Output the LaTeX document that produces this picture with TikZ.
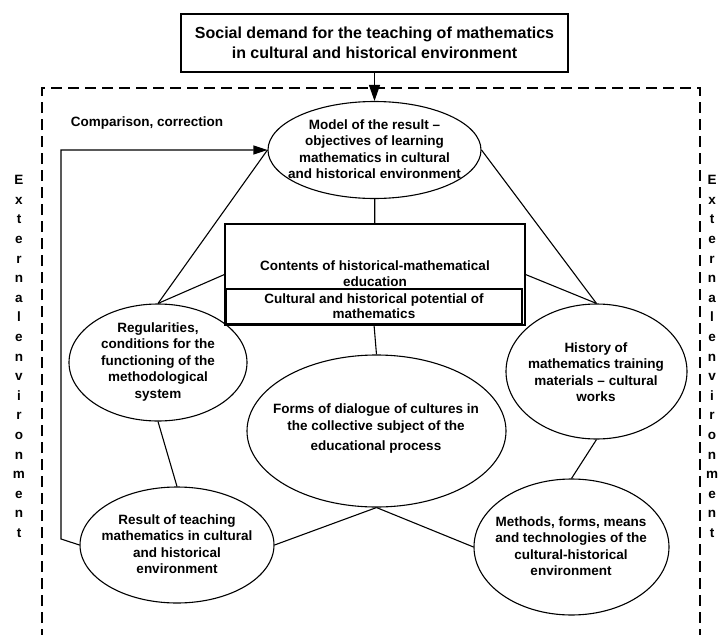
\documentclass[tikz,border=0pt]{standalone}
\usepackage{fontspec}
\setmainfont{Liberation Sans}
\usetikzlibrary{arrows.meta,shapes.geometric}

\begin{document}
\begin{tikzpicture}
[
                  x =  1pt,
                  y = -1pt,
                 >= {Triangle[length=14pt,width=9pt]},
         line width = 1.1pt,
      vertex/.style = { draw=black, ellipse, inner sep=0pt },
       block/.style = { draw=black, rectangle, inner sep=0pt },
       frame/.style = { draw=black, dash pattern=on 11pt off 6pt },
   labeltext/.style = { draw=none, fill=none, align=center, inner sep=0pt, font=\bfseries\fontsize{13.5}{16.5}\selectfont },
   titletext/.style = { draw=none, fill=none, align=center, inner sep=0pt, font=\bfseries\fontsize{16}{20}\selectfont },
    sidetext/.style = { draw=none, fill=none, align=center, inner sep=0pt, font=\bfseries\fontsize{13.5}{19.6}\selectfont }
]

    \useasboundingbox (0,0) rectangle (721,635);

    \draw [frame] (42,640) -- (42,88) -- (700,88) -- (700,640);

    \node (Social)      at (374.5, 43)  [block, minimum width=387pt, minimum height=58pt] {};
    \node (Model)       at (374.5,150)  [vertex, minimum width=213pt, minimum height=97pt] {};
    \node (Contents)    at (375, 274.5) [block, minimum width=300pt, minimum height=101pt] {};
    \node (Potential)   at (374, 306.5) [block, minimum width=296pt, minimum height=35pt] {};
    \node (Regular)     at (158, 362.5) [vertex, minimum width=178pt, minimum height=117pt] {};
    \node (History)     at (596.5,371.5)[vertex, minimum width=181pt, minimum height=135pt] {};
    \node (Dialogue)    at (376.5,431)  [vertex, minimum width=259pt, minimum height=152pt] {};
    \node (Result)      at (177, 545)   [vertex, minimum width=194pt, minimum height=116pt] {};
    \node (Methods)     at (571.5,547)  [vertex, minimum width=195pt, minimum height=136pt] {};

    \coordinate (FeedbackBottom) at (61,539);
    \coordinate (FeedbackTop)    at (61,150);

    \draw [-{Triangle[length=16pt,width=11pt]}] (Social) -- (Model);
    \draw [->] (Result.west) -- (FeedbackBottom) -- (FeedbackTop) -- (Model.west);
    \draw (Model.west) -- (Regular.north);
    \draw (Model.east) -- (History.north);
    \draw (Model) -- (Contents);
    \draw (Contents.west) -- (Regular.north);
    \draw (Contents.east) -- (History.north);
    \draw (Potential.south) -- (Dialogue.north);
    \draw (Regular.south) -- (Result.north);
    \draw (History.south) -- (Methods.north);
    \draw (Dialogue.south) -- (Result.east);
    \draw (Dialogue.south) -- (Methods.west);

    \node (SocialLabel)     at (374.5, 43)  [titletext] {Social demand for the teaching of mathematics\\in cultural and historical environment};
    \node (ComparisonLabel) at (147, 123)   [labeltext] {Comparison, correction};
    \node (ModelLabel)      at (374.5,149)  [labeltext] {Model of the result –\\objectives of learning\\mathematics in cultural\\and historical environment};
    \node (ContentsLabel)   at (375, 273.5) [labeltext] {Contents of historical-mathematical\\education};
    \node (PotentialLabel)  at (374, 306.5) [labeltext] {Cultural and historical potential of\\[-1.5pt]mathematics};
    \node (RegularLabel)    at (158, 362)   [labeltext] {Regularities,\\conditions for the\\functioning of the\\methodological\\system};
    \node (HistoryLabel)    at (596, 372)   [labeltext] {History of\\mathematics training\\materials – cultural\\works};
    \node (DialogueLabel)   at (376, 429)   [labeltext] {Forms of dialogue of cultures in\\the collective subject of the\\[4pt]educational process};
    \node (ResultLabel)     at (177, 544)   [labeltext] {Result of teaching\\mathematics in cultural\\and historical\\environment};
    \node (MethodsLabel)    at (571, 546)   [labeltext] {Methods, forms, means\\and technologies of the\\cultural-historical\\environment};

    \node (LeftSideLabel)   at (19, 356.5)  [sidetext] {E\\x\\t\\e\\r\\n\\a\\l\\e\\n\\v\\i\\r\\o\\n\\m\\e\\n\\t};
    \node (RightSideLabel)  at (712, 356.5) [sidetext] {E\\x\\t\\e\\r\\n\\a\\l\\e\\n\\v\\i\\r\\o\\n\\m\\e\\n\\t};

\end{tikzpicture}
\end{document}
